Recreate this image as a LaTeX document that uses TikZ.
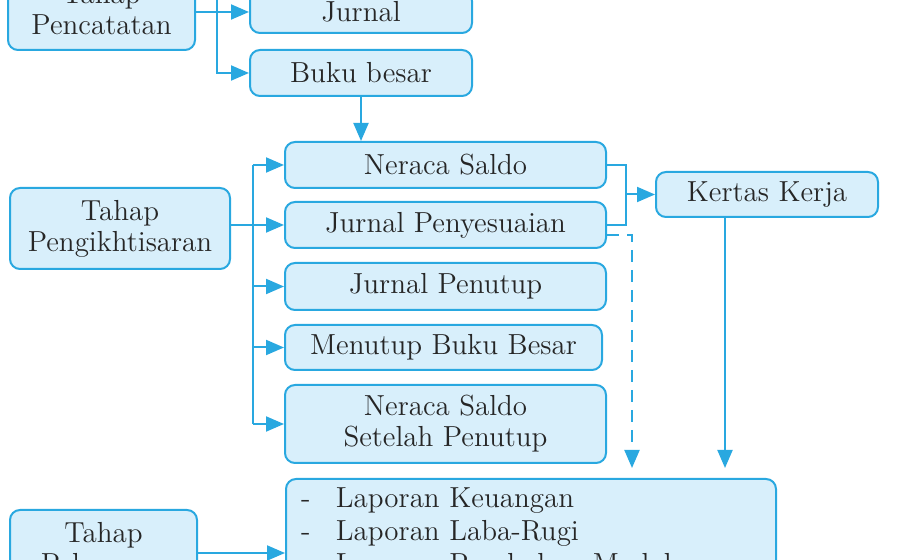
\documentclass[tikz,border=0pt]{standalone}
\usepackage{tikz}
\usetikzlibrary{arrows.meta,calc}
\definecolor{ac_blue}{RGB}{41, 168, 224}
\definecolor{ac_fill}{RGB}{216, 239, 251}
\tikzstyle{box}=[rectangle,rounded corners=5pt,fill=ac_fill,draw=ac_blue,
  line width=1pt,inner sep=2pt,align=center,text=black!85,
  font=\fontsize{14.5}{15.5}\selectfont]
\tikzstyle{arr}=[draw=ac_blue,line width=1pt,
  -{Triangle[length=9pt,width=7.5pt]}]
\tikzstyle{ln}=[draw=ac_blue,line width=1pt]
\tikzstyle{none}=[]

\begin{document}
\begin{tikzpicture}[x=0.5pt,y=-0.5pt]
        \useasboundingbox (0,0) rectangle (900,560);
        \clip (0,0) rectangle (900,560);
        \node [style=box,minimum width=93.5pt,minimum height=41pt] (0) at (101.5,9) {Tahap\\Pencatatan};
        \node [style=box,minimum width=111pt,minimum height=21pt] (1) at (361,12) {Jurnal};
        \node [style=box,minimum width=111pt,minimum height=23pt] (2) at (361,73) {Buku besar};
        \node [style=box,minimum width=160.5pt,minimum height=23pt] (3) at (445.5,165) {Neraca Saldo};
        \node [style=box,minimum width=160.5pt,minimum height=23pt] (4) at (445.5,225) {Jurnal Penyesuaian};
        \node [style=box,minimum width=160.5pt,minimum height=23.5pt] (5) at (445.5,286.5) {Jurnal Penutup};
        \node [style=box,minimum width=158.5pt,minimum height=22.5pt] (6) at (443.5,347.5) {Menutup Buku Besar};
        \node [style=box,minimum width=160.5pt,minimum height=39pt] (7) at (445.5,424) {Neraca Saldo\\Setelah Penutup};
        \node [style=box,minimum width=111pt,minimum height=22.5pt] (8) at (767,194.5) {Kertas Kerja};
        \node [style=box,minimum width=110pt,minimum height=40.5pt] (9) at (120,228.5) {Tahap\\Pengikhtisaran};
        \node [style=box,anchor=north west,align=left,text width=230pt,inner xsep=7.5pt,inner ysep=4.5pt,
          font=\fontsize{14.5}{16.5}\selectfont] (10) at (285,478)
          {\makebox[17.5pt][l]{-}Laporan Keuangan\\
           \makebox[17.5pt][l]{-}Laporan Laba-Rugi\\
           \makebox[17.5pt][l]{-}Laporan Perubahan Modal};
        \node [style=box,minimum width=93.5pt,minimum height=41pt] (11) at (103.5,551) {Tahap\\Pelaporan};
        \coordinate (a) at (217,-20);
        \coordinate (b) at (253,0);
        \coordinate (c) at (626,0);
        \coordinate (d) at (632,468);
        \coordinate (e) at (725,468);
        % pencatatan
        \draw [style=arr] (0.east |- 1.west) to (1.west);
        \draw [style=arr] (a) |- (2.west);
        \draw [style=arr] (2.south) to (2.south |- 3.north);
        % pengikhtisaran
        \draw [style=ln] (b |- 3.west) to (b |- 7.west);
        \draw [style=arr] (9.east |- 4.west) to (4.west);
        \foreach \n in {3,5,6,7}
          \draw [style=arr] (b |- \n.west) to (\n.west);
        \draw [style=ln] (3.east) -| (c |- 4.east) to (4.east);
        \draw [style=arr] (c |- 8.west) to (8.west);
        \draw [style=arr,dash pattern=on 6pt off 4pt] ([yshift=-5pt]4.east) -| (d);
        \draw [style=arr] (8.south -| e) to (e);
        % pelaporan
        \draw [style=arr] (11.east |- 0,553) to (10.west |- 0,553);
    \end{tikzpicture}
\end{document}
